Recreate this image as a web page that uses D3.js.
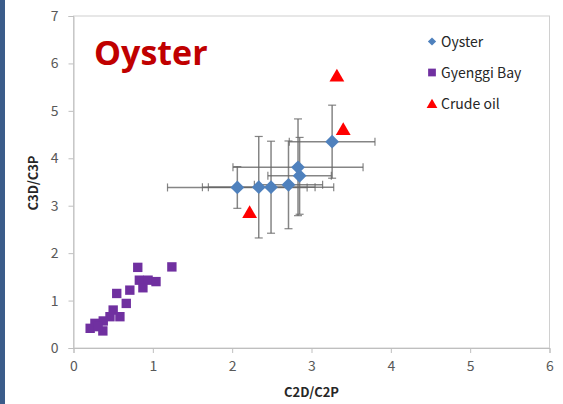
<!DOCTYPE html>
<html>
<head>
<meta charset="utf-8">
<script src="https://cdn.jsdelivr.net/npm/d3@7"></script>
<style>
  html, body { margin: 0; padding: 0; background: #fff; }
  svg { display: block; font-family: "Noto Sans CJK KR", "Open Sans", sans-serif; }
</style>
</head>
<body>
<svg id="chart" width="563" height="404"></svg>
<script>
// Oyster samples: C2D/C2P (x), C3D/C3P (y) with standard deviations
const oysterX    = [2.065, 2.335, 2.49, 2.71, 2.85, 2.83, 3.26];
const oysterY    = [3.385, 3.39, 3.39, 3.44, 3.63, 3.81, 4.35];
const oysterXErr = [0.88, 0.71, 0.79, 0.43, 0.40, 0.82, 0.54];
const oysterYErr = [0.44, 1.07, 0.97, 0.925, 0.81, 1.02, 0.77];

// Gyenggi Bay sediments
const bayX = [0.81, 1.24, 0.545, 0.71, 0.665, 0.83, 0.94, 1.04, 0.875, 0.50, 0.585, 0.46, 0.375, 0.27, 0.21, 0.37, 0.31];
const bayY = [1.70, 1.71, 1.15, 1.22, 0.94, 1.43, 1.43, 1.40, 1.27, 0.80, 0.66, 0.66, 0.57, 0.52, 0.415, 0.36, 0.45];

// Crude oil references
const oilX = [3.32, 3.40, 2.22];
const oilY = [5.73, 4.60, 2.85];

const xTicks = [0, 1, 2, 3, 4, 5, 6];
const yTicks = [0, 1, 2, 3, 4, 5, 6, 7];
const legendLabels = ["Oyster", "Gyenggi Bay", "Crude oil"];

(function () {
const svg = d3.select("#chart");
const plotLeft = 73.5, plotRight = 549.5, plotTop = 16, plotBottom = 348;

const x = d3.scaleLinear().domain([0, 6]).range([plotLeft, plotRight]);
const y = d3.scaleLinear().domain([0, 7]).range([plotBottom, plotTop]);

// side band
svg.append("rect").attr("x", 0).attr("y", 0).attr("width", 5).attr("height", 404).attr("fill", "#3b5c8a");

// plot frame
svg.append("rect")
  .attr("x", plotLeft).attr("y", plotTop)
  .attr("width", plotRight - plotLeft).attr("height", plotBottom - plotTop)
  .attr("fill", "none").attr("stroke", "#d0d0d0").attr("stroke-width", 1);

// axes
const xAxis = svg.append("g").attr("transform", `translate(0,${plotBottom})`)
  .call(d3.axisBottom(x).tickValues(xTicks).tickFormat(d3.format("d")).tickSizeOuter(0).tickSize(5).tickPadding(8));
const yAxis = svg.append("g").attr("transform", `translate(${plotLeft},0)`)
  .call(d3.axisLeft(y).tickValues(yTicks).tickFormat(d3.format("d")).tickSizeOuter(0).tickSize(5).tickPadding(10));
[xAxis, yAxis].forEach(g => {
  g.select(".domain").attr("stroke", "#bfbfbf");
  g.selectAll(".tick line").attr("stroke", "#bfbfbf");
  g.selectAll(".tick text").attr("fill", "#595959").style("font-size", "14px")
    .style("font-family", "'Noto Sans CJK KR', 'Open Sans', sans-serif");
});

// axis titles
svg.append("text").attr("x", (plotLeft + plotRight) / 2).attr("y", 397)
  .attr("text-anchor", "middle").attr("font-weight", "bold").attr("font-size", "13px").attr("fill", "#262626")
  .text("C2D/C2P");
svg.append("text").attr("transform", "translate(38,183) rotate(-90)")
  .attr("text-anchor", "middle").attr("font-weight", "bold").attr("font-size", "13px").attr("fill", "#262626")
  .text("C3D/C3P");

// title
svg.append("text").attr("x", 94).attr("y", 65)
  .attr("font-weight", "bold").attr("font-size", "34px").attr("fill", "#c00000")
  .style("font-family", "'Open Sans', 'Noto Sans', sans-serif")
  .text("Oyster");

// error bars
const oyster = oysterX.map((d, i) => ({ x: d, y: oysterY[i], ex: oysterXErr[i], ey: oysterYErr[i] }));
const eb = svg.append("g").attr("stroke", "#666666").attr("stroke-opacity", 0.8);
const cap = 4;
oyster.forEach(d => {
  const cx = x(d.x), cy = y(d.y);
  const x0 = x(d.x - d.ex), x1 = x(d.x + d.ex);
  const y0 = y(d.y - d.ey), y1 = y(d.y + d.ey);
  eb.append("line").attr("x1", x0).attr("x2", x1).attr("y1", cy).attr("y2", cy).attr("stroke-width", 1.5);
  eb.append("line").attr("x1", cx).attr("x2", cx).attr("y1", y0).attr("y2", y1).attr("stroke-width", 1.5);
  [x0, x1].forEach(v => eb.append("line").attr("x1", v).attr("x2", v).attr("y1", cy - cap).attr("y2", cy + cap).attr("stroke-width", 1.2));
  [y0, y1].forEach(v => eb.append("line").attr("y1", v).attr("y2", v).attr("x1", cx - cap).attr("x2", cx + cap).attr("stroke-width", 1.2));
});

// markers
const diamond = d3.symbol().type(d3.symbolSquare).size(95);
const square = d3.symbol().type(d3.symbolSquare).size(88);
const triangle = d3.symbol().type(d3.symbolTriangle).size(95);

svg.append("g").selectAll("path").data(bayX.map((d, i) => [d, bayY[i]])).join("path")
  .attr("d", square).attr("fill", "#7030a0")
  .attr("transform", d => `translate(${x(d[0])},${y(d[1])})`);

svg.append("g").selectAll("path").data(oyster).join("path")
  .attr("d", diamond).attr("fill", "#4f81bd")
  .attr("transform", d => `translate(${x(d.x)},${y(d.y)}) rotate(45)`);

svg.append("g").selectAll("path").data(oilX.map((d, i) => [d, oilY[i]])).join("path")
  .attr("d", triangle).attr("fill", "#ff0000")
  .attr("transform", d => `translate(${x(d[0])},${y(d[1]) + 1})`);

// legend
const legend = svg.append("g");
const rows = [41.5, 72.5, 104];
legendLabels.forEach((lab, i) => {
  const g = legend.append("g").attr("transform", `translate(432,${rows[i]})`);
  if (i === 0) g.append("path").attr("d", d3.symbol().type(d3.symbolSquare).size(34)).attr("transform", "rotate(45)").attr("fill", "#4f81bd");
  if (i === 1) g.append("path").attr("d", d3.symbol().type(d3.symbolSquare).size(60)).attr("fill", "#7030a0");
  if (i === 2) g.append("path").attr("d", d3.symbol().type(d3.symbolTriangle).size(50)).attr("transform", "translate(0,1)").attr("fill", "#ff0000");
  g.append("text").attr("x", 9).attr("y", 5).attr("font-size", "14px").attr("fill", "#262626").text(lab);
});
})();
</script>
</body>
</html>
